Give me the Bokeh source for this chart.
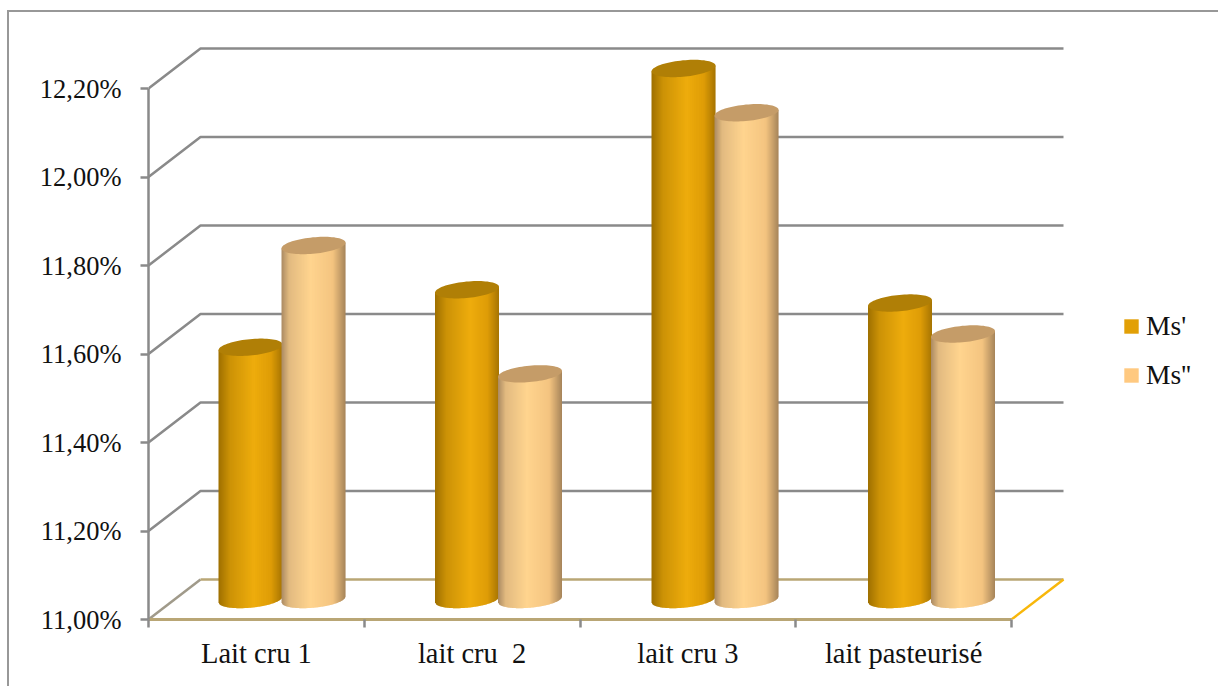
import numpy as np
from bokeh.embed import file_html
from bokeh.resources import INLINE
from bokeh.plotting import figure
from bokeh.models import (FixedTicker, Legend, LegendItem, LinearAxis, Range1d)

# Chart data
categories = ["Lait cru 1", "lait cru \u00a02", "lait cru 3", "lait pasteurisé"]
ms_prime = [11.57, 11.70, 12.20, 11.67]
ms_second = [11.80, 11.51, 12.10, 11.60]
y_ticks = [11.0, 11.2, 11.4, 11.6, 11.8, 12.0, 12.2]
y_tick_labels = ["11,00%", "11,20%", "11,40%", "11,60%", "11,80%", "12,00%", "12,20%"]
series_names = ["Ms'", "Ms''"]

# Canvas and scale set-up
W, H = 1218, 686
LEFT, BASE = 148, 619
PX_X = 215.75          # pixels per category
PX_Y = 442.5           # pixels per 1.00 on the value axis
DEPTH_X = 52 / PX_X    # oblique offset of the back wall
DEPTH_Y = 40 / PX_Y

FONT = "Liberation Serif"
GRID = "#8a8a8a"
FLOOR = "#b9a675"
GOLD = "#f8b70a"
TEXT = "#111111"

# Thin border of the chart area, running off the right and bottom of the page
BORDER_CSS = """
:host::after {
  content: "";
  position: absolute;
  left: 7px; top: 9.5px; width: 1300px; height: 800px;
  border: 2px solid #989898;
  pointer-events: none;
  z-index: 100;
}
:host { overflow: hidden; }
"""

p = figure(width=W, height=H, output_backend="svg", toolbar_location=None,
           x_axis_type=None, y_axis_type=None,
           x_range=Range1d(0, (W - LEFT) / PX_X),
           y_range=Range1d(11, 11 + BASE / PX_Y),
           min_border_left=LEFT, min_border_bottom=H - BASE,
           min_border_top=0, min_border_right=0,
           background_fill_color="white", border_fill_color="white",
           stylesheets=[BORDER_CSS])
p.outline_line_color = None
p.grid.visible = False

n = len(categories)

# Oblique walls: gridlines along the back and their diagonals on the left
for t in y_ticks[1:]:
    p.line([0, DEPTH_X, n + DEPTH_X], [t, t + DEPTH_Y, t + DEPTH_Y], line_color=GRID, line_width=2.5)
p.line([0, DEPTH_X], [11, 11 + DEPTH_Y], line_color="#a09a8a", line_width=2.5)

# Floor
p.line([DEPTH_X, n + DEPTH_X], [11 + DEPTH_Y] * 2, line_color=FLOOR, line_width=2.5)
p.line([n, n + DEPTH_X], [11, 11 + DEPTH_Y], line_color=GOLD, line_width=2.5)


def shade(stops, t):
    """Interpolate an RGB colour along a list of (position, colour) stops."""
    pos = [s[0] for s in stops]
    rgb = [np.interp(t, pos, [s[1][k] for s in stops]) for k in range(3)]
    return "#%02x%02x%02x" % tuple(int(round(c)) for c in rgb)


SIDE_A = [(0, (158, 112, 0)), (0.18, (204, 146, 6)), (0.55, (238, 172, 12)),
          (0.82, (222, 156, 6)), (1, (166, 116, 2))]
SIDE_B = [(0, (170, 138, 98)), (0.12, (226, 186, 128)), (0.45, (255, 212, 142)),
          (0.8, (244, 196, 128)), (1, (166, 132, 90))]
TOP_A = "#b07f06"
TOP_B = "#c59c68"

RADIUS = 32 / PX_X
SPACING = 31.5 / PX_X
COLUMN_STEP = 216.5 / PX_X
COLUMN_START = (281.5 - LEFT) / PX_X
MINOR = 8.2 / PX_Y
TILT = 0.09 * PX_X / PX_Y
BASE_Y = 11 + DEPTH_Y / 2


def cylinder(center, value, stops, top_color):
    strips = 64
    edges = np.linspace(-1, 1, strips + 1)
    xs, ys, colors = [], [], []
    for i in range(strips):
        u0, u1 = edges[i], min(edges[i + 1] + 0.02, 1)
        lo0 = BASE_Y + TILT * u0 * RADIUS - MINOR * np.sqrt(1 - u0 ** 2)
        lo1 = BASE_Y + TILT * u1 * RADIUS - MINOR * np.sqrt(1 - u1 ** 2)
        hi0 = value + TILT * u0 * RADIUS
        hi1 = value + TILT * u1 * RADIUS
        x0, x1 = center + u0 * RADIUS, center + u1 * RADIUS
        xs.append([x0, x1, x1, x0])
        ys.append([hi0, hi1, lo1, lo0])
        colors.append(shade(stops, (i + 0.5) / strips))
    p.patches(xs, ys, fill_color=colors, line_color=None)
    # Top cap
    a = np.linspace(0, 2 * np.pi, 80)
    u = np.cos(a)
    p.patch(center + RADIUS * u, value + TILT * u * RADIUS + MINOR * np.sin(a),
            fill_color=top_color, line_color=None)


for i in range(n):
    mid = COLUMN_START + i * COLUMN_STEP
    cylinder(mid - SPACING, ms_prime[i] + DEPTH_Y / 2, SIDE_A, TOP_A)
    cylinder(mid + SPACING, ms_second[i] + DEPTH_Y / 2, SIDE_B, TOP_B)

# Axes
yaxis = LinearAxis(ticker=FixedTicker(ticks=y_ticks), bounds=(11, 12.2),
                   major_label_overrides=dict(zip(y_ticks, y_tick_labels)),
                   axis_line_color=GRID, axis_line_width=2.5,
                   major_tick_line_color=GRID, major_tick_line_width=2.5,
                   major_tick_in=0, major_tick_out=8, minor_tick_line_color=None,
                   major_label_standoff=19,
                   major_label_text_font=FONT, major_label_text_font_size="26.5px",
                   major_label_text_color=TEXT)
p.add_layout(yaxis, "left")

centers = [i + 0.5 for i in range(n)]
xaxis = LinearAxis(ticker=FixedTicker(ticks=centers, minor_ticks=list(range(n + 1))),
                   bounds=(0, n),
                   major_label_overrides=dict(zip(centers, categories)),
                   axis_line_color=FLOOR, axis_line_width=3,
                   major_tick_line_color=None,
                   minor_tick_line_color=GRID, minor_tick_line_width=2.5,
                   minor_tick_in=0, minor_tick_out=8,
                   major_tick_in=0, major_tick_out=8,
                   major_label_standoff=10,
                   major_label_text_font=FONT, major_label_text_font_size="28.5px",
                   major_label_text_color=TEXT)
p.add_layout(xaxis, "below")

# Legend swatches: the quads themselves sit outside the visible ranges
r1 = p.quad(left=[-3], right=[-2], top=[10], bottom=[9], fill_color="#e2a006", line_color=None)
r2 = p.quad(left=[-3], right=[-2], top=[10], bottom=[9], fill_color="#ffc980", line_color=None)
legend = Legend(items=[LegendItem(label=series_names[0], renderers=[r1]),
                       LegendItem(label=series_names[1], renderers=[r2])],
                location=(1122 - LEFT, BASE - 391), orientation="vertical",
                glyph_width=18, glyph_height=18, label_standoff=6, spacing=17,
                padding=0, margin=0, border_line_color=None, background_fill_alpha=0,
                label_text_font=FONT, label_text_font_size="27.5px",
                label_text_color=TEXT, label_height=25)
p.add_layout(legend)

open("out.html", "w").write(file_html(p, INLINE))
